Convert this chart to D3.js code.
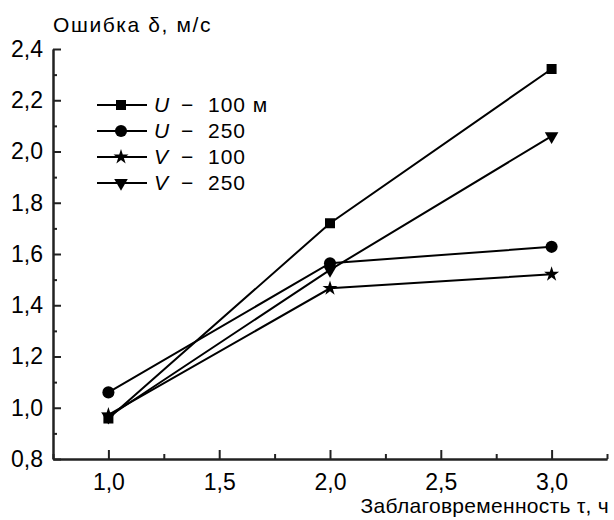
<!DOCTYPE html>
<html>
<head>
<meta charset="utf-8">
<script src="https://cdn.jsdelivr.net/npm/d3@7"></script>
<style>
  body { margin: 0; background: #fff; }
  svg text { font-family: "Liberation Sans", Arial, sans-serif; fill: #000; }
</style>
</head>
<body>
<svg id="chart" width="614" height="520"></svg>
<script>
// lead time, hours
var leadTimes = [1.0, 2.0, 3.0];

// error values, m/s
var u100 = [0.958, 1.72, 2.322];
var u250 = [1.06, 1.564, 1.628];
var v100 = [0.972, 1.466, 1.521];
var v250 = [0.965, 1.538, 2.06];

var seriesNames = ["100 м", "250", "100", "250"];
var seriesComp = ["U", "U", "V", "V"];

var xTicks = [1.0, 1.5, 2.0, 2.5, 3.0];
var xMinor = [0.75, 1.25, 1.75, 2.25, 2.75, 3.25];
var yTicks = [0.8, 1.0, 1.2, 1.4, 1.6, 1.8, 2.0, 2.2, 2.4];
var yMinor = [0.9, 1.1, 1.3, 1.5, 1.7, 1.9, 2.1, 2.3];

var svg = d3.select("#chart");

var x = d3.scaleLinear().domain([0.75, 3.25]).range([53, 607]);
var y = d3.scaleLinear().domain([0.8, 2.4]).range([459, 49]);

var fmt = function(d) { return d3.format(".1f")(d).replace(".", ","); };

// axes, ticks point inward
svg.append("g").attr("transform", "translate(53,0)")
    .call(d3.axisLeft(y).tickValues(yTicks).tickSize(-8).tickPadding(10).tickFormat(fmt).tickSizeOuter(0));
svg.append("g").attr("transform", "translate(53,0)")
    .call(d3.axisLeft(y).tickValues(yMinor).tickSize(-4).tickFormat("").tickSizeOuter(0));

svg.append("g").attr("transform", "translate(0,459)")
    .call(d3.axisBottom(x).tickValues(xTicks).tickSize(-9).tickPadding(15).tickFormat(fmt).tickSizeOuter(0));
svg.append("g").attr("transform", "translate(0,459)")
    .call(d3.axisBottom(x).tickValues(xMinor).tickSize(-5).tickFormat("").tickSizeOuter(0));

svg.selectAll(".domain, .tick line").attr("stroke", "#222").attr("stroke-width", 2);
svg.selectAll(".tick text").attr("font-size", 23);

// axis titles
svg.append("text").attr("x", 53).attr("y", 32).attr("font-size", 21)
    .attr("letter-spacing", 1.6).text("Ошибка δ, м/с");
svg.append("text").attr("x", 609).attr("y", 513).attr("font-size", 21)
    .attr("letter-spacing", 0.3)
    .attr("text-anchor", "end").text("Заблаговременность τ, ч");

var symbols = [
    { type: d3.symbolSquare, size: 100, rot: 0 },
    { type: d3.symbolCircle, size: 115, rot: 0 },
    { type: d3.symbolStar, size: 70, rot: 0 },
    { type: d3.symbolTriangle, size: 80, rot: 180 }
];

var allSeries = [u100, u250, v100, v250];

var line = d3.line()
    .x(function(d, i) { return x(leadTimes[i]); })
    .y(function(d) { return y(d); });

allSeries.forEach(function(vals, k) {
    svg.append("path").datum(vals)
        .attr("d", line)
        .attr("fill", "none")
        .attr("stroke", "#000")
        .attr("stroke-width", 2);

    svg.selectAll(".pt" + k).data(vals).enter().append("path")
        .attr("class", "pt" + k)
        .attr("d", d3.symbol().type(symbols[k].type).size(symbols[k].size))
        .attr("transform", function(d, i) {
            return "translate(" + x(leadTimes[i]) + "," + y(d) + ") rotate(" + symbols[k].rot + ")";
        })
        .attr("fill", "#000");
});

// legend
var legend = svg.append("g");
seriesNames.forEach(function(name, k) {
    var ly = 105 + k * 26;
    legend.append("line").attr("x1", 97).attr("x2", 147).attr("y1", ly).attr("y2", ly)
        .attr("stroke", "#000").attr("stroke-width", 2);
    legend.append("path")
        .attr("d", d3.symbol().type(symbols[k].type).size(symbols[k].size))
        .attr("transform", "translate(121," + ly + ") rotate(" + symbols[k].rot + ")")
        .attr("fill", "#000");
    var t = legend.append("text").attr("y", ly + 7).attr("font-size", 21);
    t.append("tspan").attr("x", 154).attr("font-style", "italic").text(seriesComp[k]);
    t.append("tspan").attr("x", 181).text("−");
    t.append("tspan").attr("x", 208).attr("letter-spacing", 1).text(name);
});
</script>
</body>
</html>
